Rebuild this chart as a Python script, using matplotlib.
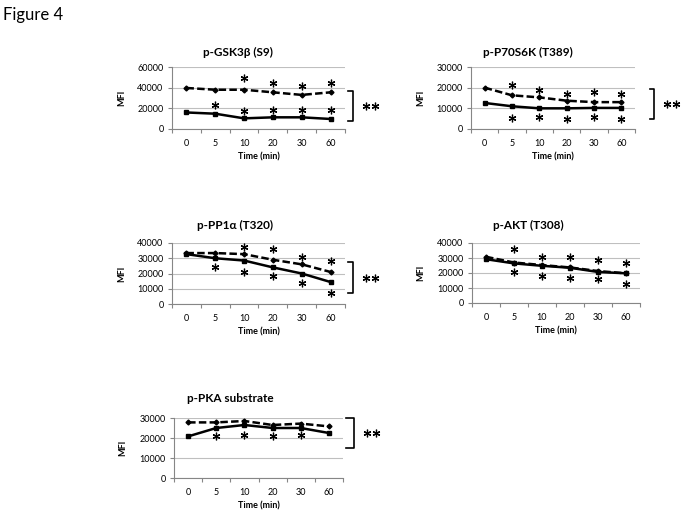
import matplotlib.pyplot as plt
from matplotlib.transforms import blended_transform_factory

plt.rcParams['font.family'] = ['Lato', 'DejaVu Sans']

W, H = 683, 519

times = ['0', '5', '10', '20', '30', '60']

# p-GSK3b (S9)
gsk_dash = [39700, 38000, 38000, 35500, 33000, 35500]
gsk_solid = [16000, 14800, 10300, 11300, 11300, 9700]
gsk_star_x = [2, 3, 4, 5, 1, 2, 3, 4, 5]
gsk_star_y = [49000, 45000, 42000, 44500, 23000, 17000, 18000, 18000, 18700]

# p-P70S6K (T389)
p70_dash = [20000, 16300, 15300, 13700, 13000, 13000]
p70_solid = [12600, 11000, 10000, 10000, 10200, 10200]
p70_star_x = [1, 2, 3, 4, 5, 1, 2, 3, 4, 5]
p70_star_y = [21500, 19000, 17000, 17700, 17000, 5500, 5800, 4800, 6000, 4800]

# p-PP1a (T320)
pp1_dash = [33400, 33400, 32700, 29000, 26000, 21000]
pp1_solid = [32700, 30000, 28500, 24000, 20000, 14400]
pp1_star_x = [2, 3, 4, 5, 1, 2, 3, 4, 5]
pp1_star_y = [37300, 36000, 30700, 28000, 24000, 21000, 18300, 14000, 7300]

# p-AKT (T308)
akt_dash = [30800, 27000, 25300, 23700, 21300, 19800]
akt_solid = [29200, 26400, 24800, 23500, 20700, 19800]
akt_star_x = [1, 2, 3, 4, 5, 1, 2, 3, 4, 5]
akt_star_y = [36000, 30800, 30800, 29000, 26800, 20900, 18000, 17000, 15800, 12700]

# p-PKA substrate
pka_dash = [27800, 27800, 28500, 26500, 27200, 25800]
pka_solid = [20800, 25000, 26500, 25000, 25000, 22500]
pka_star_x = [1, 2, 3, 4]
pka_star_y = [21200, 21700, 21200, 21700]

panels = [
    dict(title='p-GSK3\u03b2 (S9)', dash=gsk_dash, solid=gsk_solid, sx=gsk_star_x, sy=gsk_star_y,
         ymax=60000, step=20000, box=(172, 345, 67, 129), tpos=(238, 52), mfi=122,
         bracket=(36800, 7700), bx=(348, 353)),
    dict(title='p-P70S6K (T389)', dash=p70_dash, solid=p70_solid, sx=p70_star_x, sy=p70_star_y,
         ymax=30000, step=10000, box=(471, 635, 67, 129), tpos=(528, 52), mfi=421,
         bracket=(19400, 4800), bx=(650, 654)),
    dict(title='p-PP1\u03b1 (T320)', dash=pp1_dash, solid=pp1_solid, sx=pp1_star_x, sy=pp1_star_y,
         ymax=40000, step=10000, box=(172, 345, 243, 304), tpos=(235, 225), mfi=122,
         bracket=(27500, 7200), bx=(348, 353)),
    dict(title='p-AKT (T308)', dash=akt_dash, solid=akt_solid, sx=akt_star_x, sy=akt_star_y,
         ymax=40000, step=10000, box=(472, 640, 243, 303), tpos=(528, 225), mfi=421,
         bracket=None),
    dict(title='p-PKA substrate', dash=pka_dash, solid=pka_solid, sx=pka_star_x, sy=pka_star_y,
         ymax=30000, step=10000, box=(174, 343, 418, 478), tpos=(230, 398), mfi=123,
         bracket=(30000, 15000), bx=(346, 354)),
]

fig = plt.figure(figsize=(W / 100, H / 100), dpi=100)
fig.text(3 / W, 1 - 15 / H, 'Figure 4', fontsize=12, va='center', ha='left')

axcol = '#868686'
x = list(range(len(times)))
star = (6, 2, 0)

for p in panels:
    l, r, t, b = p['box']
    ax = fig.add_axes([l / W, 1 - b / H, (r - l) / W, (b - t) / H])
    ax.set_xlim(-0.5, 5.5)
    ax.set_ylim(0, p['ymax'])
    ax.set_yticks(range(0, p['ymax'] + 1, p['step']))
    ax.yaxis.grid(True, color='#bfbfbf', lw=0.8)
    ax.set_axisbelow(True)
    for s in ['top', 'right']:
        ax.spines[s].set_visible(False)
    for s in ['left', 'bottom']:
        ax.spines[s].set_color(axcol)
        ax.spines[s].set_linewidth(0.8)
    ax.set_xticks(x)
    ax.set_xticklabels(times)
    ax.set_xticks([i - 0.5 for i in range(len(times) + 1)], minor=True)
    ax.tick_params(axis='x', which='major', length=0, pad=7, labelsize=6.5)
    ax.tick_params(axis='x', which='minor', length=3, color=axcol, width=0.8)
    ax.tick_params(axis='y', length=3, color=axcol, width=0.8, pad=3, labelsize=6.5)

    ax.plot(x, p['dash'], color='black', lw=1.8, dashes=(3, 1.3), marker='D', ms=2.5, clip_on=False)
    ax.plot(x, p['solid'], color='black', lw=1.8, marker='s', ms=3.2, clip_on=False)
    ax.plot(p['sx'], p['sy'], ls='none', marker=star, ms=5.5, mew=0.9, color='black', clip_on=False)

    fig.text(p['tpos'][0] / W, 1 - p['tpos'][1] / H, p['title'], fontsize=8.5, fontweight='bold',
             ha='center', va='center')
    fig.text((l + r) / 2 / W, 1 - (b + 28) / H, 'Time (min)', fontsize=6.5, fontweight='bold',
             ha='center', va='center')
    fig.text(p['mfi'] / W, 1 - (t + b) / 2 / H, 'MFI', fontsize=6.5, fontweight='bold',
             ha='center', va='center', rotation=90)

    if p['bracket'] is not None:
        y1, y0 = p['bracket']
        x0 = (p['bx'][0] - l) / (r - l)
        x1 = (p['bx'][1] - l) / (r - l)
        tr = blended_transform_factory(ax.transAxes, ax.transData)
        ax.plot([x0, x1, x1, x0], [y1, y1, y0, y0], color='black', lw=1.2, transform=tr, clip_on=False)
        xa = (p['bx'][1] + 13 - l) / (r - l)
        xb = (p['bx'][1] + 22 - l) / (r - l)
        ax.plot([xa, xb], [(y0 + y1) / 2] * 2, ls='none', marker=star, ms=5.5, mew=0.9,
                color='black', transform=tr, clip_on=False)

fig.savefig('out.png', dpi=100)
